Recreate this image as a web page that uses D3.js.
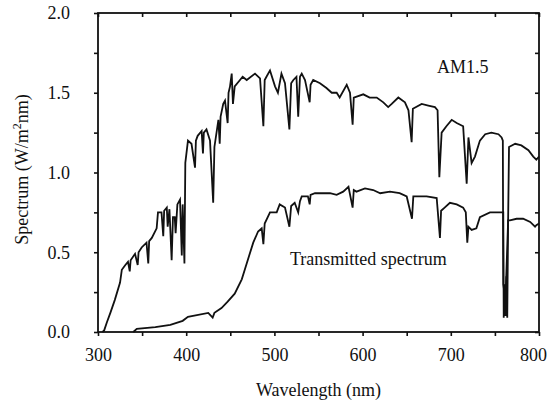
<!DOCTYPE html>
<html>
<head>
<meta charset="utf-8">
<script src="https://cdn.jsdelivr.net/npm/d3@7"></script>
<style>
  body { margin: 0; background: #fff; }
  svg text { font-family: "Liberation Serif", Tinos, "Times New Roman", "DejaVu Serif", serif; fill: #111; }
</style>
</head>
<body>
<div id="chart"></div>
<script>
// AM1.5 solar spectrum (wavelength nm, W/m2nm)
const amWave = [305, 307, 310, 314, 319, 325, 327, 331, 334, 336, 337, 342, 345, 346, 349.5, 355, 357, 358, 361, 366.5,
  368, 372, 374, 375, 378, 379, 381, 383.5, 385, 387, 388, 390, 393, 395, 396, 398, 399, 402, 406, 410,
  411, 413, 417.5, 419, 420, 423, 427, 430.6, 432, 436.5, 438, 439, 442, 444, 447, 448, 449.7, 451.6, 453, 455,
  461, 464, 468.6, 478, 483.7, 487.5, 489, 491, 495, 500.7, 504, 508, 512, 517, 519, 521.5, 525, 527, 529, 531,
  534.7, 540, 541, 544, 551.7, 559, 565, 570.6, 574, 582, 585.7, 588.7, 590, 600.8, 608, 616, 623.5, 629, 633, 640.5,
  648, 652, 655.6, 657, 667, 674.5, 682, 685, 687, 689.6, 695, 701, 706.7, 714, 718, 720, 723.6, 727.4, 733, 739,
  746, 754, 757.6, 759, 759.5, 762, 765, 766, 773, 780, 788, 793.5, 797, 800];
const amValue = [0, 0.01, 0.06, 0.12, 0.2, 0.31, 0.39, 0.42, 0.44, 0.38, 0.45, 0.49, 0.42, 0.5, 0.53, 0.56, 0.43, 0.57, 0.59, 0.65,
  0.75, 0.75, 0.6, 0.76, 0.78, 0.66, 0.77, 0.45, 0.72, 0.72, 0.62, 0.8, 0.83, 0.48, 0.8, 0.43, 1.06, 1.2, 1.18, 1.03,
  1.2, 1.23, 1.26, 1.12, 1.25, 1.27, 1.2, 0.81, 1.16, 1.33, 1.18, 1.35, 1.43, 1.45, 1.31, 1.5, 1.54, 1.62, 1.43, 1.54,
  1.58, 1.6, 1.58, 1.62, 1.59, 1.29, 1.58, 1.6, 1.64, 1.54, 1.5, 1.62, 1.56, 1.27, 1.56, 1.58, 1.6, 1.35, 1.6, 1.62,
  1.58, 1.44, 1.55, 1.58, 1.56, 1.53, 1.5, 1.5, 1.47, 1.55, 1.5, 1.3, 1.47, 1.49, 1.47, 1.47, 1.44, 1.41, 1.43, 1.47,
  1.44, 1.39, 1.19, 1.4, 1.43, 1.42, 1.41, 1.39, 0.97, 1.25, 1.29, 1.33, 1.31, 1.29, 0.93, 1.22, 1.06, 1.1, 1.2, 1.24,
  1.25, 1.24, 1.22, 1.2, 0.3, 0.2, 0.7, 1.16, 1.18, 1.17, 1.14, 1.1, 1.08, 1.1];

// transmitted spectrum
const trWave = [340, 344, 365, 382, 396, 402, 425, 430, 432, 440, 447, 455, 463, 468.6, 476, 481.5, 485.6, 487.5, 489, 495,
  502.6, 506, 512, 517, 519, 523, 527, 529, 531, 538, 540, 541, 546, 555, 563, 570.6, 578, 584, 588.7, 590,
  593, 602.7, 612, 620, 631, 642, 650, 656, 657.5, 661, 672.6, 684, 687.7, 689, 693, 699, 706.7, 714, 717, 718.7,
  720, 723.6, 729, 733, 744.4, 754, 757.6, 759.5, 760, 761, 762, 763, 764, 765, 767, 774.6, 782, 790, 795.5, 797, 800];
const trValue = [0, 0.02, 0.03, 0.045, 0.07, 0.095, 0.12, 0.09, 0.12, 0.15, 0.19, 0.24, 0.33, 0.43, 0.56, 0.63, 0.65, 0.55, 0.68, 0.75,
  0.75, 0.8, 0.78, 0.66, 0.79, 0.81, 0.75, 0.82, 0.85, 0.85, 0.8, 0.86, 0.87, 0.87, 0.87, 0.86, 0.88, 0.91, 0.78, 0.89,
  0.88, 0.9, 0.89, 0.87, 0.88, 0.87, 0.85, 0.71, 0.85, 0.85, 0.85, 0.84, 0.59, 0.76, 0.78, 0.81, 0.8, 0.78, 0.75, 0.56,
  0.66, 0.64, 0.65, 0.72, 0.75, 0.75, 0.75, 0.75, 0.09, 0.3, 0.1, 0.35, 0.09, 0.7, 0.7, 0.71, 0.71, 0.69, 0.66, 0.67, 0.68];

const xTicks = [300, 400, 500, 600, 700, 800];
const yTicks = [0, 0.5, 1.0, 1.5, 2.0];

const margin = { top: 13, right: 10, bottom: 68, left: 98 };
const width = 549 - margin.left - margin.right;
const height = 400 - margin.top - margin.bottom;
const serif = '"Liberation Serif", Tinos, "Times New Roman", "DejaVu Serif", serif';

const x = d3.scaleLinear().domain([300, 800]).range([0, width]);
const y = d3.scaleLinear().domain([0, 2]).range([height, 0]);

const svg = d3.select("#chart")
  .append("svg")
  .attr("width", 549)
  .attr("height", 400)
  .append("g")
  .attr("transform", `translate(${margin.left},${margin.top})`);

// minor ticks on every side
const xMinor = d3.range(350, 800, 100);
const yMinor = d3.range(0.25, 2, 0.5);

function ticks(axis, vals, size) {
  return axis.tickValues(vals).tickSize(size).tickFormat("");
}

svg.append("g").attr("transform", `translate(0,${height})`)
  .call(ticks(d3.axisBottom(x), xMinor, 4));
svg.append("g").attr("transform", `translate(0,${height})`)
  .call(d3.axisBottom(x).tickValues(xTicks).tickSize(4).tickPadding(12).tickFormat(d3.format("d")))
  .attr("font-family", serif)
  .style("font-size", "18px")
  .call(g => g.selectAll(".tick text").filter(d => d === 800).attr("dx", -6));
svg.append("g").call(ticks(d3.axisTop(x), xMinor.concat(xTicks), -4));

svg.append("g").call(ticks(d3.axisLeft(y), yMinor, 4));
svg.append("g")
  .call(d3.axisLeft(y).tickValues(yTicks).tickSize(4).tickPadding(24).tickFormat(d3.format(".1f")))
  .attr("font-family", serif)
  .style("font-size", "18px");
svg.append("g").attr("transform", `translate(${width},0)`)
  .call(ticks(d3.axisRight(y), yMinor.concat(yTicks), -4));

svg.selectAll(".domain").remove();
svg.selectAll(".tick line").attr("stroke", "#111").attr("stroke-width", 1.6);
svg.selectAll(".tick text").attr("fill", "#111");

// frame
svg.append("rect")
  .attr("width", width)
  .attr("height", height)
  .attr("fill", "none")
  .attr("stroke", "#111")
  .attr("stroke-width", 1.8);

const line = d3.line()
  .x(d => x(d[0]))
  .y(d => y(d[1]));

svg.append("path")
  .datum(d3.zip(amWave, amValue))
  .attr("fill", "none")
  .attr("stroke", "#111")
  .attr("stroke-width", 1.8)
  .attr("d", line);

svg.append("path")
  .datum(d3.zip(trWave, trValue))
  .attr("fill", "none")
  .attr("stroke", "#111")
  .attr("stroke-width", 1.8)
  .attr("d", line);

// labels
svg.append("text")
  .attr("x", 339)
  .attr("y", 60)
  .attr("font-family", serif)
  .style("font-size", "18px")
  .text("AM1.5");

svg.append("text")
  .attr("x", 192)
  .attr("y", 252)
  .attr("font-family", serif)
  .style("font-size", "18px")
  .text("Transmitted spectrum");

svg.append("text")
  .attr("x", width / 2)
  .attr("y", height + 64)
  .attr("text-anchor", "middle")
  .attr("font-family", serif)
  .style("font-size", "18px")
  .text("Wavelength (nm)");

const yLabel = svg.append("text")
  .attr("transform", "rotate(-90)")
  .attr("x", -height / 2 + 3)
  .attr("y", -70)
  .attr("text-anchor", "middle")
  .attr("font-family", serif)
  .style("font-size", "18px");
yLabel.append("tspan").text("Spectrum (W/m");
yLabel.append("tspan").attr("dy", -7).style("font-size", "12px").text("2");
yLabel.append("tspan").attr("dy", 7).text("nm)");
</script>
</body>
</html>
